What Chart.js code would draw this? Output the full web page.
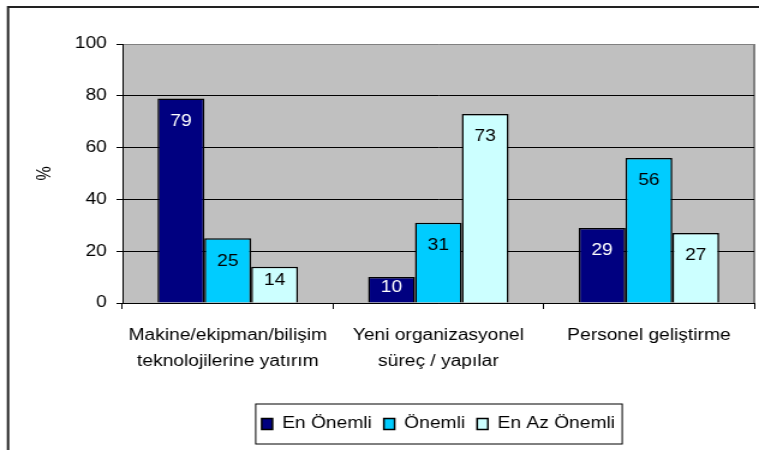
<!DOCTYPE html>
<html>
<head>
<meta charset="utf-8">
<script src="https://cdn.jsdelivr.net/npm/chart.js@4/dist/chart.umd.min.js"></script>
<style>
    html, body { margin: 0; padding: 0; background: #fff; }
</style>
</head>
<body>
<!-- the chart is drawn narrow and stretched sideways, like the original picture -->
<canvas id="chart" width="632" height="450" style="display:block;width:759px;height:450px"></canvas>
<script>
const categories = [
    ["Makine/ekipman/bilişim", "teknolojilerine yatırım"],
    ["Yeni organizasyonel", "süreç / yapılar"],
    ["Personel geliştirme"]
];
const seriesNames = ["En Önemli", "Önemli", "En Az Önemli"];
const enOnemli = [79, 10, 29];
const onemli = [25, 31, 56];
const enAzOnemli = [14, 73, 27];
const yTicks = [0, 20, 40, 60, 80, 100];

const colors = ["#000080", "#00CCFF", "#CCFFFF"];
const labelColors = ["#ffffff", "#000000", "#000000"];
const font = {family: "'Liberation Sans', Arial, sans-serif", size: 16};

// gray plot area, plot border on the right, outer frame
const plotBg = {
    id: "plotBg",
    beforeDraw(chart) {
        const {ctx, chartArea: a} = chart;
        ctx.save();
        ctx.fillStyle = "#C0C0C0";
        ctx.fillRect(a.left, a.top, a.right - a.left, a.bottom - a.top);
        ctx.strokeStyle = "#808080";
        ctx.lineWidth = 2;
        ctx.beginPath();
        ctx.moveTo(a.right, a.top);
        ctx.lineTo(a.right, a.bottom);
        ctx.stroke();
        ctx.strokeStyle = "#222";
        ctx.lineWidth = 2;
        ctx.beginPath();
        ctx.moveTo(6.7, 460);
        ctx.lineTo(6.7, 7);
        ctx.lineTo(700, 7);
        ctx.stroke();
        ctx.restore();
    }
};

// legend centered under the plot area, with a frame
const legendShift = {
    id: "legendShift",
    afterLayout(chart) {
        const a = chart.chartArea;
        const lg = chart.legend;
        const shift = (a.left + a.right) / 2 - (lg.left + lg.right) / 2;
        lg.left += shift;
        lg.right += shift;
    },
    afterDraw(chart) {
        const lg = chart.legend;
        const hb = lg.legendHitBoxes;
        if (!hb || !hb.length) return;
        const last = hb[hb.length - 1];
        const x0 = hb[0].left - 5;
        const x1 = last.left + last.width + 6;
        const ctx = chart.ctx;
        ctx.save();
        ctx.strokeStyle = "#000";
        ctx.lineWidth = 1;
        ctx.strokeRect(x0, lg.top - 2, x1 - x0, lg.bottom - lg.top + 4);
        ctx.restore();
    }
};

// values written inside the bars
const barLabels = {
    id: "barLabels",
    afterDatasetsDraw(chart) {
        const ctx = chart.ctx;
        ctx.save();
        ctx.font = `${font.size}px ${font.family}`;
        ctx.textAlign = "center";
        ctx.textBaseline = "middle";
        chart.data.datasets.forEach((ds, i) => {
            chart.getDatasetMeta(i).data.forEach((bar, j) => {
                const h = bar.base - bar.y;
                const off = h > 50 ? 23 : h * 0.4;
                ctx.fillStyle = labelColors[i];
                ctx.fillText(ds.data[j], bar.x, bar.y + off);
            });
        });
        ctx.restore();
    }
};

new Chart(document.getElementById("chart"), {
    type: "bar",
    data: {
        labels: categories,
        datasets: [enOnemli, onemli, enAzOnemli].map((d, i) => ({
            label: seriesNames[i],
            data: d,
            backgroundColor: colors[i],
            borderColor: "#000",
            borderWidth: 1.5,
            categoryPercentage: 0.667,
            barPercentage: 1
        }))
    },
    options: {
        responsive: false,
        animation: false,
        devicePixelRatio: 1,
        layout: {padding: {top: 44, right: 4, bottom: 8, left: 0}},
        plugins: {
            legend: {
                position: "bottom",
                labels: {font, color: "#000", boxWidth: 9, boxHeight: 11, padding: 10}
            },
            tooltip: {enabled: false}
        },
        scales: {
            x: {
                grid: {offset: true, drawOnChartArea: false, tickLength: 6, tickColor: "#000"},
                border: {color: "#000", width: 1},
                ticks: {font: {...font, lineHeight: 1.6}, color: "#000", padding: 14, maxRotation: 0},
                afterFit(scale) { scale.height = 103; }
            },
            y: {
                min: 0,
                max: 100,
                afterBuildTicks(scale) { scale.ticks = yTicks.map(v => ({value: v})); },
                grid: {
                    color: c => c.tick && c.tick.value === 100 ? "#808080" : "#000",
                    lineWidth: 1,
                    tickLength: 5,
                    tickColor: "#000"
                },
                border: {color: "#000", width: 1},
                ticks: {font, color: "#000", padding: 8},
                title: {display: true, text: "%", font, color: "#000", padding: {top: 28, bottom: 0}},
                afterFit(scale) { scale.width = 102; }
            }
        }
    },
    plugins: [plotBg, legendShift, barLabels]
});
</script>
</body>
</html>
